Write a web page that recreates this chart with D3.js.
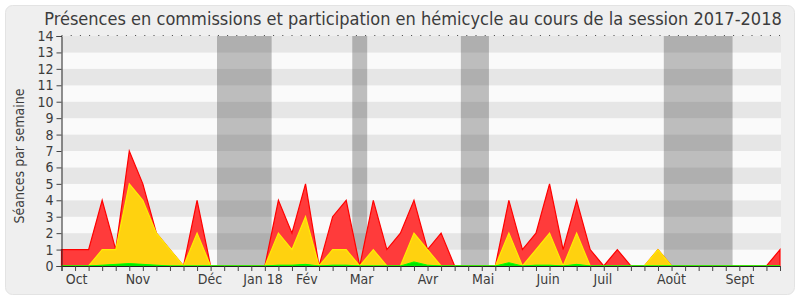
<!DOCTYPE html>
<html lang="fr">
<head>
<meta charset="UTF-8">
<title>Présences en commissions et participation en hémicycle</title>
<script src="https://d3js.org/d3.v7.min.js"></script>
<style>
  body { margin: 0; background: #fff; }
  svg text { font-family: "DejaVu Sans Condensed", "DejaVu Sans", sans-serif; fill: #3c3c3c; }
</style>
</head>
<body>
<div id="chart"></div>
<script>
// weekly values, session 2017-2018 (54 weeks)
const commission = [1,1,1,4,1,7,5,2,1,0, 4,0,0,0,0,0,4,2,5,0, 3,4,0,4,1,2,4,1,2,0, 0,0,0,4,1,2,5,1,4,1, 0,1,0,0,1,0,0,0,0,0, 0,0,0,1];
const hemicycle  = [0,0,0,1,1,5,4,2,1,0, 2,0,0,0,0,0,2,1,3,0, 1,1,0,1,0,0,2,1,0,0, 0,0,0,2,0,1,2,0,2,0, 0,0,0,0,1,0,0,0,0,0, 0,0,0,0];
const interventions = [0,0,0,0.05,0.1,0.15,0.1,0.05,0,0, 0,0,0,0,0,0,0.05,0.05,0.1,0, 0.05,0.05,0,0,0,0,0.25,0.05,0,0, 0,0,0,0.2,0,0.05,0.05,0,0.1,0, 0,0,0,0,0,0,0,0,0,0, 0,0,0,0];
const weeks = d3.range(commission.length);

// parliamentary holidays, in week units
const vacances = [[11.47, 15.5], [21.45, 22.55], [29.46, 31.53], [44.43, 49.5]];

const monthLabels = ["Oct", "Nov", "Déc", "Jan 18", "Fév", "Mar", "Avr", "Mai", "Juin", "Juil", "Août", "Sept"];
const monthPos    = [1.12, 5.64, 10.95, 14.86, 18.1, 22.14, 27.03, 31.1, 35.9, 39.93, 45.0, 50.04];
const yTicks = d3.range(0, 15);

const W = 800, H = 300;
const mLeft = 61.5, mRight = 780, mTop = 36, mBottom = 266;

const svg = d3.select("#chart").append("svg")
  .attr("width", W).attr("height", H);

// panel
svg.append("rect")
  .attr("x", 5.5).attr("y", 5.5).attr("width", 789).attr("height", 289)
  .attr("rx", 7).attr("fill", "#efefef").attr("stroke", "#e3e3e3");

const x = d3.scaleLinear().domain([0, weeks.length - 1]).range([mLeft, mRight]);
const y = d3.scaleLinear().domain([0, 14]).range([mBottom, mTop]);

// striped background
svg.append("g").selectAll("rect")
  .data(d3.range(0, 14))
  .join("rect")
  .attr("x", mLeft).attr("width", mRight - mLeft + 1)
  .attr("y", d => y(d + 1)).attr("height", d => y(d) - y(d + 1))
  .attr("fill", d => d % 2 ? "#e6e6e6" : "#fafafa");

// holidays
svg.append("g").selectAll("rect")
  .data(vacances)
  .join("rect")
  .attr("x", d => x(d[0])).attr("width", d => x(d[1]) - x(d[0]))
  .attr("y", mTop).attr("height", mBottom - mTop)
  .attr("fill", "rgba(50,50,50,0.3)");

const area = vals => d3.area()
  .x(i => x(i)).y0(y(0)).y1(i => y(vals[i]))(weeks);

svg.append("path").attr("d", area(commission))
  .attr("fill", "#ff3b3b").attr("stroke", "#ff0000").attr("stroke-width", 1.2);
svg.append("path").attr("d", area(hemicycle))
  .attr("fill", "#ffd20f").attr("stroke", "#ffee00").attr("stroke-width", 1.2);
svg.append("path").attr("d", area(interventions))
  .attr("fill", "#00e600").attr("stroke", "#00ff00").attr("stroke-width", 1);

// top dotted border
svg.append("line")
  .attr("x1", mLeft).attr("x2", mRight).attr("y1", mTop - 0.5).attr("y2", mTop - 0.5)
  .attr("stroke", "#444").attr("stroke-dasharray", "1,8.2");

// y axis
const yAxis = svg.append("g").attr("transform", `translate(${mLeft},0)`)
  .call(d3.axisLeft(y).tickValues(yTicks).tickSize(5).tickPadding(3));
yAxis.select(".domain").attr("stroke", "#222");
yAxis.selectAll(".tick line").attr("stroke", "#444");
yAxis.selectAll("text").attr("font-size", 14).attr("fill", "#3c3c3c")
  .attr("font-family", null);

// x axis: weekly ticks, month labels separately
const xAxis = svg.append("g").attr("transform", `translate(0,${mBottom})`)
  .call(d3.axisBottom(x).tickValues(weeks).tickSize(5).tickFormat(""));
xAxis.select(".domain").attr("stroke", "#222");
xAxis.selectAll(".tick line").attr("stroke", "#444");

svg.append("g").selectAll("text")
  .data(monthLabels)
  .join("text")
  .attr("x", (d, i) => x(monthPos[i]))
  .attr("y", 284)
  .attr("text-anchor", "middle")
  .attr("font-size", 14)
  .text(d => d);

// y label
svg.append("text")
  .attr("transform", "translate(24,156) rotate(-90)")
  .attr("text-anchor", "middle")
  .attr("font-size", 14)
  .text("Séances par semaine");

// title
const title = svg.append("text")
  .attr("x", 413).attr("y", 25)
  .attr("text-anchor", "middle")
  .attr("font-size", 17)
  .text("Présences en commissions et participation en hémicycle au cours de la session 2017-2018");
const tw = title.node().getComputedTextLength();
title.attr("font-size", 17 * 738 / tw);
</script>
</body>
</html>
